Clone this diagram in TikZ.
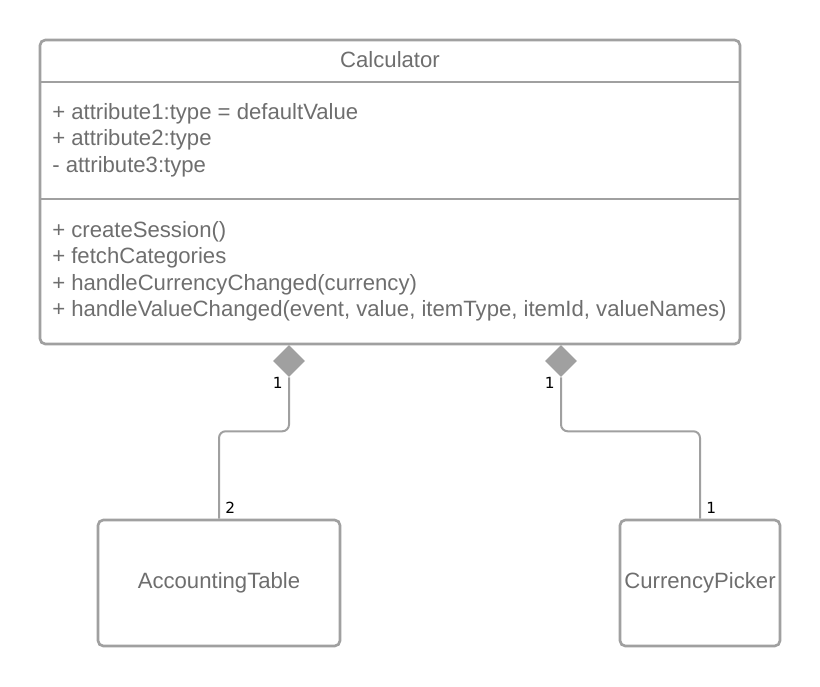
\documentclass[tikz,border=0pt]{standalone}
\usepackage{fontspec}
\setmainfont{Liberation Sans}
\newfontfamily\multfont{DejaVu Sans}
\usepackage{tikz}
\usetikzlibrary{positioning,shapes.geometric}
\definecolor{umlline}{HTML}{A0A0A0}
\definecolor{umltext}{HTML}{6E6E6E}
\tikzset{
  classbox/.style={draw=umlline,line width=2pt,rounded corners=4pt,inner sep=0pt},
  txt/.style={text=umltext,font=\fontsize{16.6}{19.9}\selectfont,align=left,inner sep=0pt},
  comp/.style={diamond,fill=umlline,minimum width=24pt,minimum height=24pt,inner sep=0pt},
  conn/.style={draw=umlline,line width=1.5pt,rounded corners=5pt},
  mult/.style={font=\multfont\fontsize{11.5}{13}\selectfont,inner sep=2pt},
}
\begin{document}
\begin{tikzpicture}[x=0.75pt,y=-0.75pt]
\useasboundingbox (0,0) rectangle (820,686);

% the class
\node[classbox, minimum width=525pt, minimum height=228pt] (calc) at (390,192) {};
\draw[umlline, line width=1.5pt] (40,82) -- (740,82);
\draw[umlline, line width=1.5pt] (40,199) -- (740,199);
\node[txt] (title) at (390,60) {Calculator};
\node[txt, anchor=north west] (attrs) at (52,103)
  {+ attribute1:type = defaultValue\\+ attribute2:type\\- attribute3:type};
\node[txt, anchor=north west] (meths) at (52,221)
  {+ createSession()\\+ fetchCategories\\+ handleCurrencyChanged(currency)\\+ handleValueChanged(event, value, itemType, itemId, valueNames)};

% parts
\node[classbox, minimum width=181.5pt, minimum height=94.5pt] (table) at (219,583) {};
\node[txt] at (table) {AccountingTable};
\node[classbox, minimum width=120pt, minimum height=94.5pt] (picker) at (700,583) {};
\node[txt] at (picker) {CurrencyPicker};

% composition
\node[comp] (dl) at (289,361) {};
\node[comp] (dr) at (561,361) {};
\draw[conn] (dl.south) node[mult, below left=-3pt and 2pt]{1} -- ++(0,54) -| (table.north) node[mult, above right=1pt and 2pt]{2};
\draw[conn] (dr.south) node[mult, below left=-3pt and 2pt]{1} -- ++(0,54) -| (picker.north) node[mult, above right=1pt and 2pt]{1};

\end{tikzpicture}
\end{document}
